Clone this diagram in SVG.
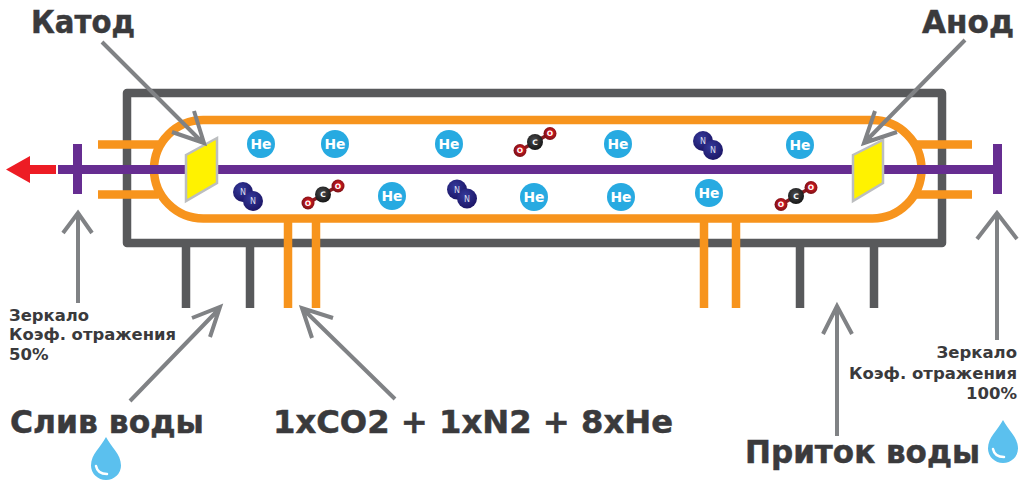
<svg xmlns="http://www.w3.org/2000/svg" width="1024" height="482" viewBox="0 0 1024 482">
<style>
text{font-family:"DejaVu Sans",sans-serif;font-weight:700;fill:#3a3a3c}
.big{font-size:31.5px;stroke:#3a3a3c;stroke-width:.5}.small{font-size:16.5px}
.he{font-size:14px;fill:#fff;text-anchor:middle}
.at{font-size:8px;fill:#dde;text-anchor:middle;font-weight:400}
.o{fill:none;stroke:#f7941d;stroke-width:8.5}
.g{fill:none;stroke:#58595b;stroke-width:8.5}
.p{fill:none;stroke:#662d91;stroke-width:9}
.a{fill:none;stroke:#808285;stroke-width:4}
.y{fill:#fff200;stroke:#bcbec0;stroke-width:2.500}
</style>
<defs>
<radialGradient id="gn" cx="40%" cy="35%" r="70%"><stop offset="0" stop-color="#34399a"/><stop offset="1" stop-color="#1b1464"/></radialGradient>
<radialGradient id="gr" cx="55%" cy="45%" r="60%"><stop offset="0" stop-color="#ed1c24"/><stop offset="1" stop-color="#6d0f14"/></radialGradient>
<radialGradient id="gk" cx="45%" cy="40%" r="65%"><stop offset="0" stop-color="#4d4d4f"/><stop offset="1" stop-color="#111"/></radialGradient>
<g id="n2"><circle cx="-5" cy="-4.500" r="10" fill="url(#gn)"/><circle cx="5" cy="4.500" r="10" fill="url(#gn)"/><text class="at" x="-5" y="-1.500">N</text><text class="at" x="5" y="7.500">N</text></g>
<g id="co2"><line x1="-15" y1="8.500" x2="15" y2="-8.500" stroke="#8a1a1f" stroke-width="3.500"/><circle cx="-15" cy="8.500" r="6.500" fill="url(#gr)"/><circle cx="15" cy="-8.500" r="6.500" fill="url(#gr)"/><circle cx="0" cy="0" r="8" fill="url(#gk)"/><text class="at" x="-15" y="11.200" style="font-size:7.500px;fill:#fff;font-weight:700">O</text><text class="at" x="15" y="-5.800" style="font-size:7.500px;fill:#fff;font-weight:700">O</text><text class="at" x="0" y="2.700" style="font-size:7.500px;fill:#fff;font-weight:700">C</text></g>
<path id="drop" d="M0 -21C5 -11 15 -4 15 7.500A15 14.500 0 0 1 -15 7.500C-15 -4 -5 -11 0 -21Z" fill="#5bc0ee"/>
<path id="shine" d="M-10 8C-9 13 -5 16 1 16" fill="none" stroke="#fff" stroke-width="2.500" stroke-linecap="round"/>
</defs>
<g id="housing" class="g"><path d="M127 243V93H942V243Z" stroke-linejoin="round"/><path d="M186 247V308M250 247V308M800 247V308M874 247V308"/></g>
<g id="tube"><path class="o" d="M98 144.500H158M98 194.500H158M917 144.500H972M917 194.500H972M288 222V308M316 222V308M704 222V308M736 222V308"/><rect class="o" x="154" y="120" width="767.500" height="98.500" rx="49.200"/></g>
<g id="beam"><path class="p" d="M58 169.500H998M77.500 144V194M997.500 144V194"/><path d="M56 165H30V156L6 169.500 30 183V174H56Z" fill="#ed1c24"/></g>
<g id="cathode"><path class="y" d="M186 155 217 138V183L186 201Z"/></g>
<g id="anode"><path class="y" d="M853 155 883 140V183L853 201Z"/></g>
<g id="he-atoms">
<g id="he1"><circle cx="261" cy="144" r="14" fill="#27aae1"/><text class="he" x="261" y="149" textLength="21" lengthAdjust="spacingAndGlyphs">He</text></g>
<g id="he2"><circle cx="335" cy="144" r="14" fill="#27aae1"/><text class="he" x="335" y="149" textLength="21" lengthAdjust="spacingAndGlyphs">He</text></g>
<g id="he3"><circle cx="449" cy="144" r="14" fill="#27aae1"/><text class="he" x="449" y="149" textLength="21" lengthAdjust="spacingAndGlyphs">He</text></g>
<g id="he4"><circle cx="618" cy="144" r="14" fill="#27aae1"/><text class="he" x="618" y="149" textLength="21" lengthAdjust="spacingAndGlyphs">He</text></g>
<g id="he5"><circle cx="800" cy="145" r="14" fill="#27aae1"/><text class="he" x="800" y="150" textLength="21" lengthAdjust="spacingAndGlyphs">He</text></g>
<g id="he6"><circle cx="392" cy="196" r="14" fill="#27aae1"/><text class="he" x="392" y="201" textLength="21" lengthAdjust="spacingAndGlyphs">He</text></g>
<g id="he7"><circle cx="534" cy="197" r="14" fill="#27aae1"/><text class="he" x="534" y="202" textLength="21" lengthAdjust="spacingAndGlyphs">He</text></g>
<g id="he8"><circle cx="621" cy="197" r="14" fill="#27aae1"/><text class="he" x="621" y="202" textLength="21" lengthAdjust="spacingAndGlyphs">He</text></g>
<g id="he9"><circle cx="709" cy="193" r="14" fill="#27aae1"/><text class="he" x="709" y="198" textLength="21" lengthAdjust="spacingAndGlyphs">He</text></g>
</g>
<g id="molecules">
<use href="#n2" x="248" y="196.500"/><use href="#n2" x="462" y="194"/><use href="#n2" x="708" y="145.500"/>
<use href="#co2" x="323" y="194.500"/><use href="#co2" x="535" y="142"/><use href="#co2" x="796" y="196"/>
</g>
<g id="connectors" class="a">
<path d="M102 42 203 143M194 111 204 143 172 132"/>
<path d="M965 40 864 143M875 111 864 143 897 132"/>
<path d="M78 303V213M63 233 78 213 92 233"/>
<path d="M997 340V213M977 239 997 213 1017 239"/>
<path d="M130 401 220 308M192 318 220 307 210 337"/>
<path d="M395 399 303 309M333 318 302 308 312 338"/>
<path d="M837 436V306M823 334 837 306 852 334"/>
</g>
<g id="labels">
<text class="big" x="31" y="33" textLength="104" lengthAdjust="spacingAndGlyphs">Катод</text>
<text class="big" x="922" y="33" textLength="92" lengthAdjust="spacingAndGlyphs">Анод</text>
<text class="small" x="9" y="321" textLength="80" lengthAdjust="spacingAndGlyphs">Зеркало</text>
<text class="small" x="9" y="340" textLength="167" lengthAdjust="spacingAndGlyphs">Коэф. отражения</text>
<text class="small" x="9" y="360">50%</text>
<text class="small" x="1017" y="358" text-anchor="end">Зеркало</text>
<text class="small" x="1017" y="379" text-anchor="end">Коэф. отражения</text>
<text class="small" x="1017" y="399" text-anchor="end">100%</text>
<text class="big" x="10" y="433" textLength="194" lengthAdjust="spacingAndGlyphs">Слив воды</text>
<text class="big" x="273" y="433" textLength="400" lengthAdjust="spacingAndGlyphs">1xCO2 + 1xN2 + 8xHe</text>
<text class="big" x="745" y="463" textLength="235" lengthAdjust="spacingAndGlyphs">Приток воды</text>
</g>
<g id="drops"><use href="#drop" x="106" y="458"/><use href="#shine" x="106" y="458"/><use href="#drop" x="1003" y="441"/><use href="#shine" x="1003" y="441"/></g>
</svg>
